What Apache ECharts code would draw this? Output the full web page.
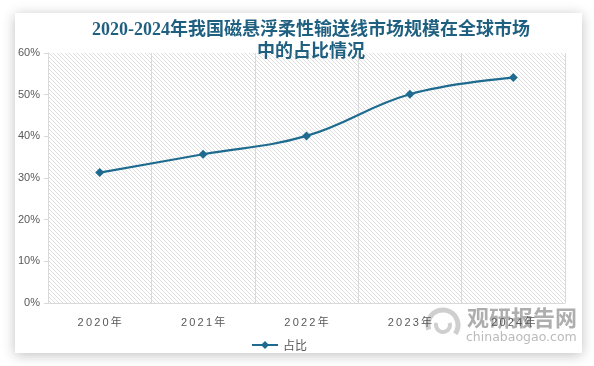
<!DOCTYPE html>
<html>
<head>
<meta charset="utf-8">
<script src="https://cdn.jsdelivr.net/npm/echarts@6/dist/echarts.min.js"></script>
<style>
html,body{margin:0;padding:0;background:#ffffff;}
#chart{width:594px;height:366px;}
</style>
</head>
<body>
<div id="chart"></div>
<script>
const categories = ['2020', '2021', '2022', '2023', '2024'];
const shareValues = [31.3, 35.7, 40.1, 50.1, 54.1];
const yTicks = [0, 10, 20, 30, 40, 50, 60];
const seriesName = '占比';
const titleText = '2020-2024年我国磁悬浮柔性输送线市场规模在全球市场\n中的占比情况';

// hatch pattern
const pc = document.createElement('canvas');
pc.width = 4; pc.height = 4;
const pctx = pc.getContext('2d');
pctx.fillStyle = '#ffffff';
pctx.fillRect(0, 0, 4, 4);
pctx.fillStyle = '#dedede';
for (let i = 0; i < 4; i++) { pctx.fillRect(i, i, 1, 1); }

const chart = echarts.init(document.getElementById('chart'), null, {renderer: 'canvas'});
const lineColor = '#1f6b8f';
const spaced = s => s.split('').join('\u2009');

chart.setOption({
  backgroundColor: '#ffffff',
  animation: false,
  graphic: [
    {type: 'rect', z: -10, shape: {x: 15, y: 13, width: 567, height: 340},
     style: {fill: '#ffffff', shadowBlur: 12, shadowColor: 'rgba(0,0,0,0.25)', shadowOffsetX: 0, shadowOffsetY: 2}},
    {type: 'arc', z: 0, shape: {cx: 443, cy: 325, r: 15, startAngle: Math.PI * 0.9, endAngle: Math.PI * 2.2},
     style: {stroke: 'rgba(160,160,160,0.5)', lineWidth: 5, fill: null}},
    {type: 'arc', z: 0, shape: {cx: 443, cy: 325, r: 7, startAngle: Math.PI * 1.9, endAngle: Math.PI * 3.1},
     style: {stroke: 'rgba(160,160,160,0.5)', lineWidth: 4, fill: null}},
    {type: 'text', z: 0, left: 467, top: 307,
     style: {text: '观研报告网', fill: 'rgba(120,120,120,0.6)', font: 'bold 22px "Noto Sans CJK SC"'}},
    {type: 'text', z: 0, left: 466, top: 331,
     style: {text: 'chinabaogao.com', fill: 'rgba(140,140,140,0.6)', font: '12.5px "DejaVu Sans"'}}
  ],
  title: {
    text: titleText,
    left: 306,
    textAlign: 'center',
    top: 14,
    textStyle: {
      fontFamily: '"Liberation Serif", "Noto Sans CJK SC"',
      fontWeight: 'bold',
      fontSize: 18,
      lineHeight: 22,
      color: '#1f5f80'
    }
  },
  legend: {
    data: [seriesName],
    left: 246,
    top: 334,
    itemWidth: 26,
    itemHeight: 10,
    itemGap: 4,
    textStyle: {fontFamily: '"Noto Sans CJK SC"', fontSize: 12, color: '#595959'}
  },
  grid: {
    left: 48, right: 29, top: 53, bottom: 63,
    show: true,
    borderWidth: 0,
    backgroundColor: {image: pc, repeat: 'repeat'}
  },
  xAxis: {
    type: 'category',
    data: categories,
    boundaryGap: true,
    axisLine: {show: true, lineStyle: {color: '#d9d9d9', width: 1}},
    axisTick: {show: false},
    splitLine: {show: true, lineStyle: {color: '#d9d9d9', width: 1}},
    axisLabel: {
      formatter: v => spaced(v + '年'),
      margin: 14,
      fontFamily: '"Liberation Sans", "Noto Sans CJK SC"',
      fontSize: 11,
      color: '#595959'
    }
  },
  yAxis: {
    type: 'value',
    min: 0, max: 60, interval: 10,
    axisLine: {show: true, lineStyle: {color: '#d9d9d9', width: 1}},
    axisTick: {show: true, length: 4, lineStyle: {color: '#d9d9d9'}},
    splitLine: {show: false},
    axisLabel: {
      formatter: v => v + '%',
      margin: 8,
      fontFamily: '"Liberation Sans", "Noto Sans CJK SC"',
      fontSize: 11,
      color: '#595959'
    }
  },
  series: [{
    name: seriesName,
    type: 'line',
    data: shareValues,
    smooth: 0.4,
    symbol: 'diamond',
    symbolSize: 9,
    lineStyle: {color: lineColor, width: 2.2},
    itemStyle: {color: lineColor}
  }]
});
</script>
</body>
</html>
